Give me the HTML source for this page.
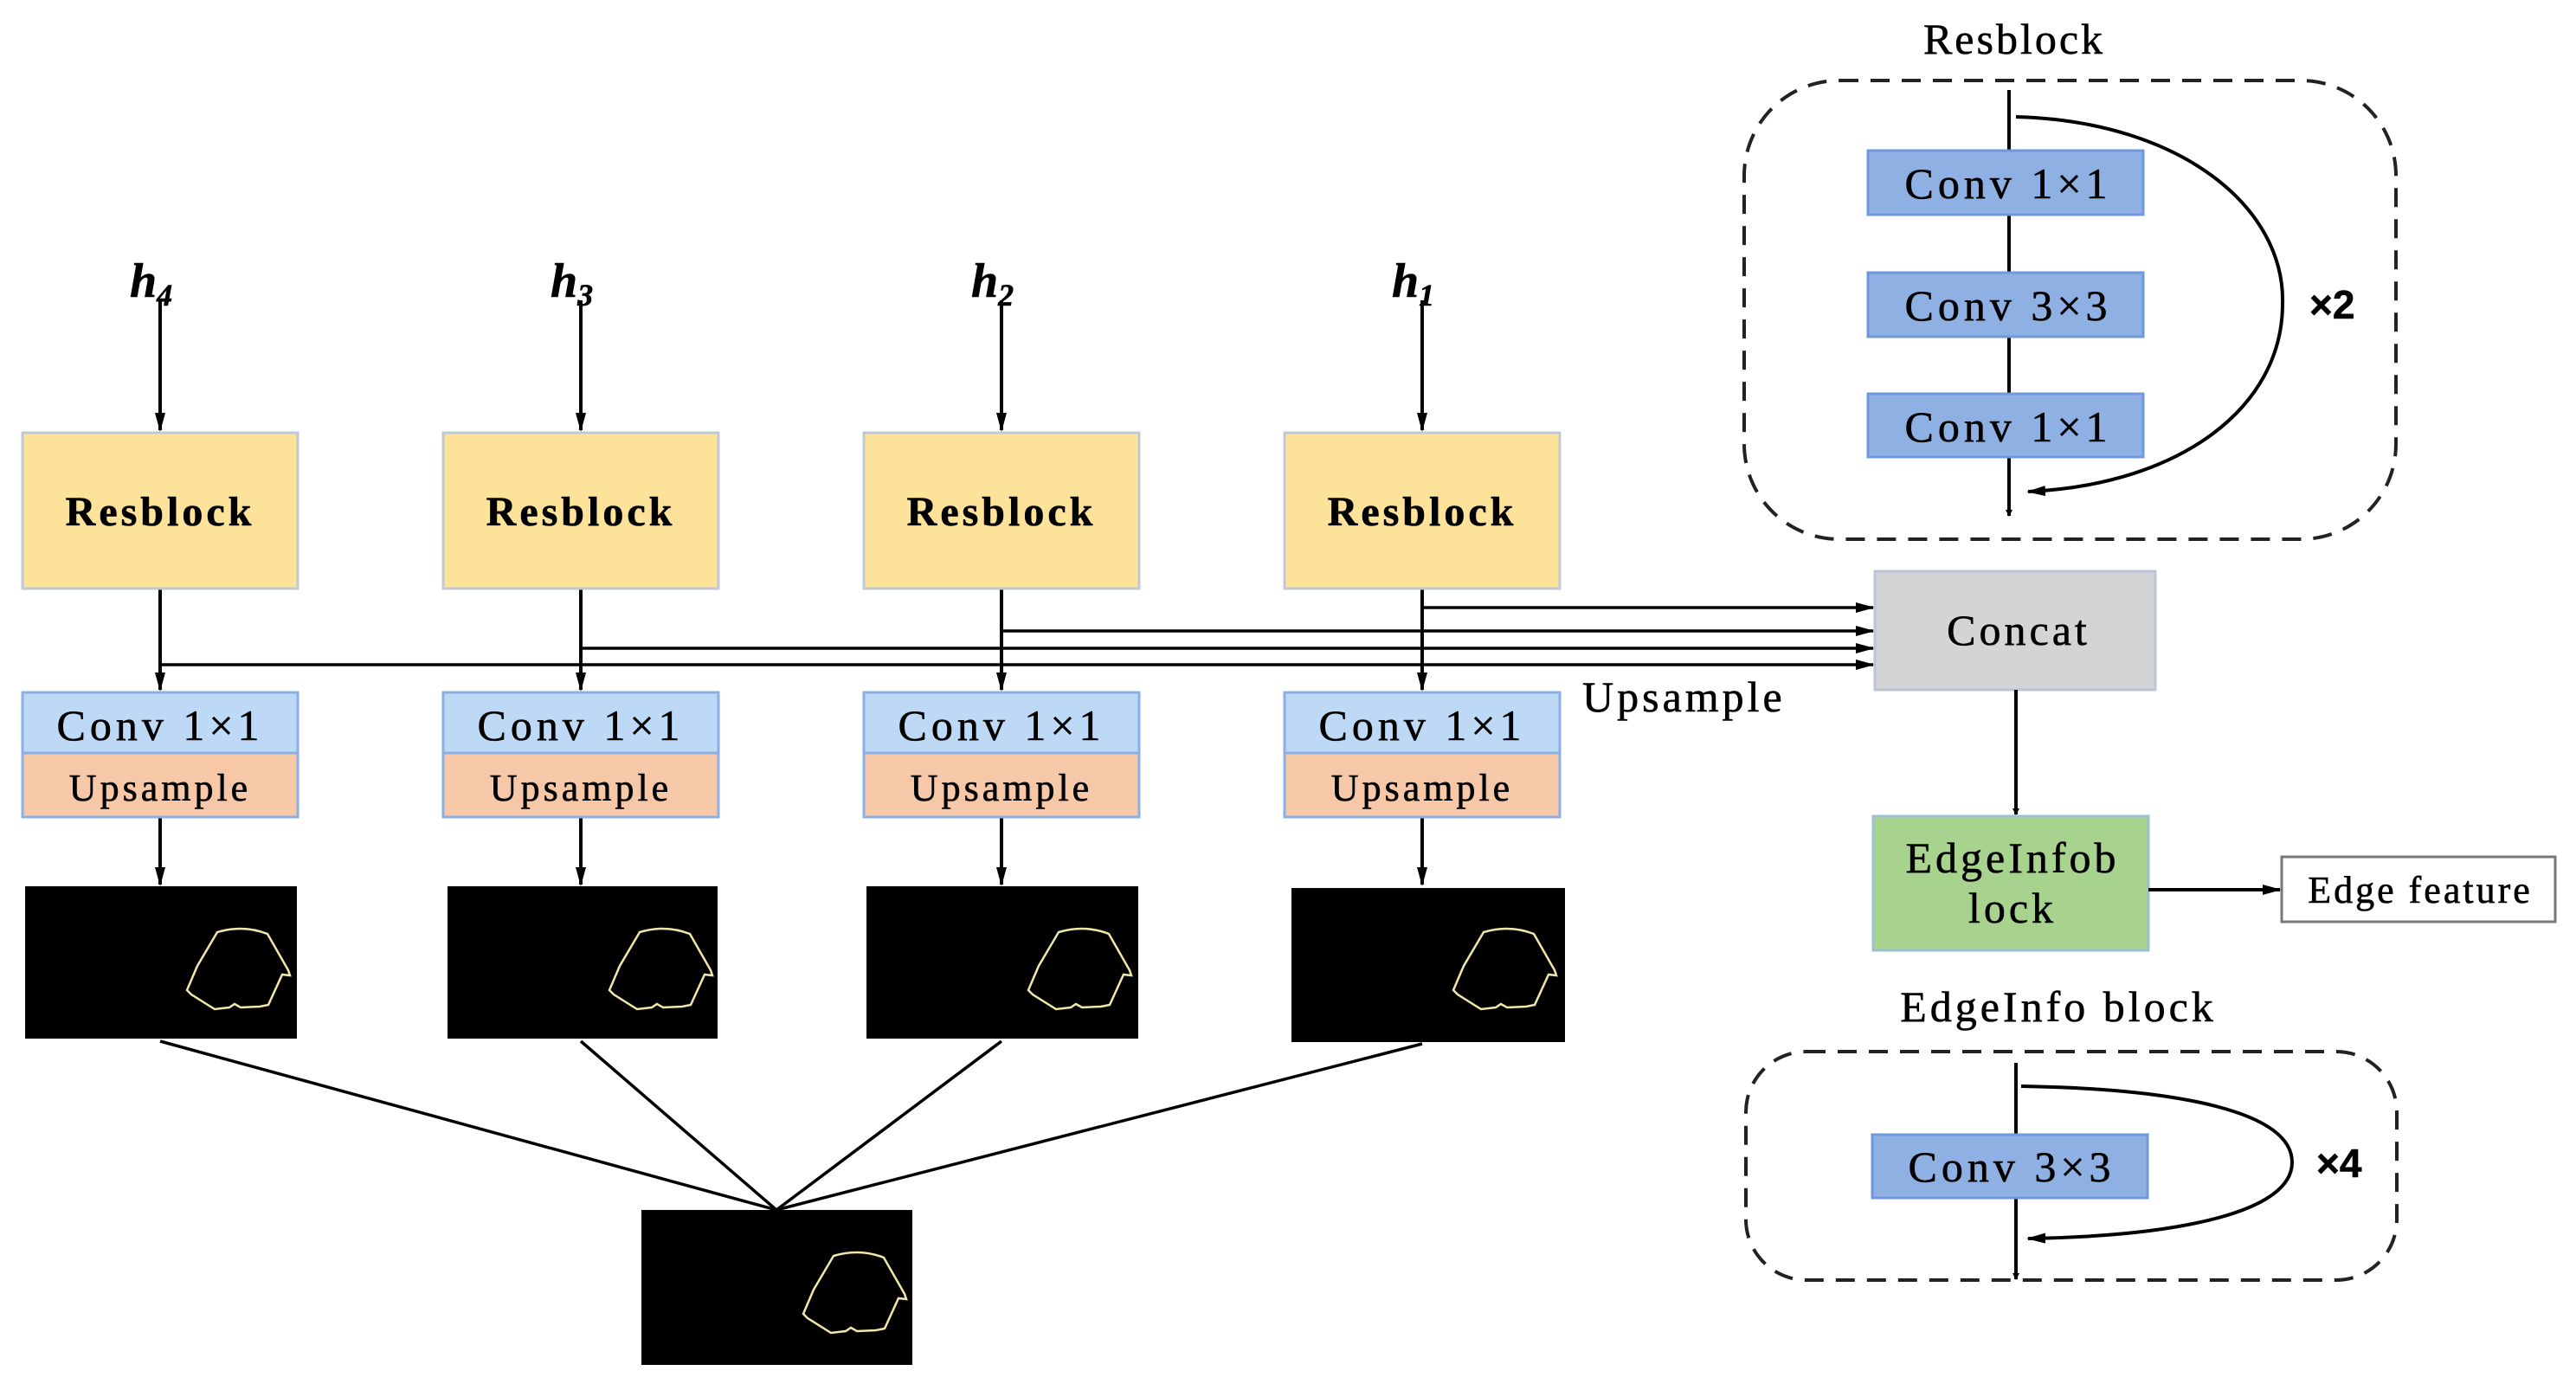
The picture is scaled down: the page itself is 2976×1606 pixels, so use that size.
<!DOCTYPE html>
<html><head><meta charset="utf-8"><style>
html,body{margin:0;padding:0;background:#fff;}
svg{display:block;}
text{font-family:"Liberation Serif",serif;fill:#000;stroke:#000;stroke-width:0.6;}
</style></head><body>
<svg width="2976" height="1606" viewBox="0 0 2976 1606" xmlns="http://www.w3.org/2000/svg">
<defs>
<marker id="ar" markerWidth="8" markerHeight="8" refX="7" refY="4" orient="auto" markerUnits="userSpaceOnUse" viewBox="0 0 8 8">
<path d="M0,0 L8,4 L0,8 z" fill="#000"/></marker>
<marker id="ar2" markerWidth="22" markerHeight="14" refX="20" refY="7" orient="auto" markerUnits="userSpaceOnUse">
<path d="M0,1 L22,7 L0,13 z" fill="#000"/></marker>
<g id="contour"><path d="M187,120 L199,92 L222,53 Q252,44 280,55 L304,97 L306,103 L297,102 L281,137 L271,139 L249,140 L242,136 L236,140 L219,142 L192,125 Z" fill="none" stroke="#f0e8a8" stroke-width="2.5"/></g>
</defs>

<g stroke="#000" stroke-width="4" fill="none">
<line x1="185" y1="347" x2="185" y2="497" marker-end="url(#ar2)"/>
<line x1="671" y1="347" x2="671" y2="497" marker-end="url(#ar2)"/>
<line x1="1157" y1="347" x2="1157" y2="497" marker-end="url(#ar2)"/>
<line x1="1643" y1="347" x2="1643" y2="497" marker-end="url(#ar2)"/>
<line x1="185" y1="680" x2="185" y2="797" marker-end="url(#ar2)"/>
<line x1="671" y1="680" x2="671" y2="797" marker-end="url(#ar2)"/>
<line x1="1157" y1="680" x2="1157" y2="797" marker-end="url(#ar2)"/>
<line x1="1643" y1="680" x2="1643" y2="797" marker-end="url(#ar2)"/>
<line x1="185" y1="944" x2="185" y2="1022" marker-end="url(#ar2)"/>
<line x1="671" y1="944" x2="671" y2="1022" marker-end="url(#ar2)"/>
<line x1="1157" y1="944" x2="1157" y2="1022" marker-end="url(#ar2)"/>
<line x1="1643" y1="944" x2="1643" y2="1022" marker-end="url(#ar2)"/>
</g>
<g stroke="#000" stroke-width="3.5" fill="none">
<line x1="1643" y1="702" x2="2164" y2="702" marker-end="url(#ar2)"/>
<line x1="1157" y1="729" x2="2164" y2="729" marker-end="url(#ar2)"/>
<line x1="671" y1="749" x2="2164" y2="749" marker-end="url(#ar2)"/>
<line x1="185" y1="768" x2="2164" y2="768" marker-end="url(#ar2)"/>
<line x1="185" y1="1203" x2="897" y2="1398"/>
<line x1="671" y1="1203" x2="897" y2="1398"/>
<line x1="1157" y1="1203" x2="897" y2="1398"/>
<line x1="1643" y1="1206" x2="897" y2="1398"/>
</g>

<g fill="#fde39a" stroke="#c0c8d8" stroke-width="3">
<rect x="26" y="500" width="318" height="180"/>
<rect x="512" y="500" width="318" height="180"/>
<rect x="998" y="500" width="318" height="180"/>
<rect x="1484" y="500" width="318" height="180"/>
</g>
<g font-size="48" font-weight="bold" text-anchor="middle" letter-spacing="4">
<text x="185" y="607">Resblock</text>
<text x="671" y="607">Resblock</text>
<text x="1157" y="607">Resblock</text>
<text x="1643" y="607">Resblock</text>
</g>

<g stroke="#8ab0e6" stroke-width="3">
<rect x="26" y="800" width="318" height="70" fill="#bdd9f5"/><rect x="26" y="870" width="318" height="74" fill="#f7c8a8"/>
<rect x="512" y="800" width="318" height="70" fill="#bdd9f5"/><rect x="512" y="870" width="318" height="74" fill="#f7c8a8"/>
<rect x="998" y="800" width="318" height="70" fill="#bdd9f5"/><rect x="998" y="870" width="318" height="74" fill="#f7c8a8"/>
<rect x="1484" y="800" width="318" height="70" fill="#bdd9f5"/><rect x="1484" y="870" width="318" height="74" fill="#f7c8a8"/>
</g>
<g font-size="50" text-anchor="middle" letter-spacing="5">
<text x="185" y="855">Conv 1×1</text><text x="185" y="925" font-size="44" letter-spacing="4">Upsample</text>
<text x="671" y="855">Conv 1×1</text><text x="671" y="925" font-size="44" letter-spacing="4">Upsample</text>
<text x="1157" y="855">Conv 1×1</text><text x="1157" y="925" font-size="44" letter-spacing="4">Upsample</text>
<text x="1643" y="855">Conv 1×1</text><text x="1643" y="925" font-size="44" letter-spacing="4">Upsample</text>
</g>

<g fill="#000">
<rect x="29" y="1024" width="314" height="176"/>
<rect x="517" y="1024" width="312" height="176"/>
<rect x="1001" y="1024" width="314" height="176"/>
<rect x="1492" y="1026" width="316" height="178"/>
<rect x="741" y="1398" width="313" height="179"/>
</g>
<use href="#contour" x="29" y="1024"/>
<use href="#contour" x="517" y="1024"/>
<use href="#contour" x="1001" y="1024"/>
<use href="#contour" x="1492" y="1024"/>
<use href="#contour" x="741" y="1398"/>

<g font-size="56" font-weight="bold" font-style="italic">
<text x="150" y="343">h<tspan font-size="36" dy="10">4</tspan></text>
<text x="636" y="343">h<tspan font-size="36" dy="10">3</tspan></text>
<text x="1122" y="343">h<tspan font-size="36" dy="10">2</tspan></text>
<text x="1608" y="343">h<tspan font-size="36" dy="10">1</tspan></text>
</g>

<text x="1828" y="822" font-size="50" letter-spacing="4">Upsample</text>

<rect x="2166" y="660" width="324" height="137" fill="#d4d4d4" stroke="#b8c4d8" stroke-width="3"/>
<text x="2332" y="745" font-size="50" text-anchor="middle" letter-spacing="4">Concat</text>
<line x1="2329" y1="797" x2="2329" y2="941" stroke="#000" stroke-width="4" marker-end="url(#ar)"/>

<rect x="2164" y="943" width="318" height="155" fill="#a8d38f" stroke="#9cc0d0" stroke-width="3"/>
<text x="2325" y="1008" font-size="50" text-anchor="middle" letter-spacing="4">EdgeInfob</text>
<text x="2325" y="1066" font-size="50" text-anchor="middle" letter-spacing="4">lock</text>
<line x1="2482" y1="1028" x2="2634" y2="1028" stroke="#000" stroke-width="4" marker-end="url(#ar2)"/>
<rect x="2636" y="990" width="316" height="75" fill="#fff" stroke="#777" stroke-width="3"/>
<text x="2796" y="1043" font-size="44" text-anchor="middle" letter-spacing="3">Edge feature</text>

<text x="2327" y="62" font-size="50" text-anchor="middle" letter-spacing="3" fill="#222">Resblock</text>
<rect x="2015" y="93" width="753" height="530" rx="110" ry="110" fill="none" stroke="#222" stroke-width="4" stroke-dasharray="22,14"/>
<line x1="2321" y1="104" x2="2321" y2="596" stroke="#000" stroke-width="4" marker-end="url(#ar)"/>
<path d="M2329,135 C2520,140 2640,240 2637,351 C2637,470 2520,560 2343,568" fill="none" stroke="#000" stroke-width="4" marker-end="url(#ar2)"/>
<g fill="#8fb0e2" stroke="#6f98dc" stroke-width="3">
<rect x="2158" y="174" width="318" height="74"/>
<rect x="2158" y="315" width="318" height="74"/>
<rect x="2158" y="455" width="318" height="73"/>
</g>
<g font-size="50" text-anchor="middle" letter-spacing="5">
<text x="2320" y="229">Conv 1×1</text>
<text x="2320" y="370">Conv 3×3</text>
<text x="2320" y="510">Conv 1×1</text>
</g>
<text x="2668" y="368" font-size="46" font-weight="bold" style="font-family:'Liberation Sans',sans-serif">×2</text>

<text x="2378" y="1180" font-size="50" text-anchor="middle" letter-spacing="4" fill="#222">EdgeInfo block</text>
<rect x="2017" y="1215" width="752" height="264" rx="70" ry="70" fill="none" stroke="#222" stroke-width="4" stroke-dasharray="22,14"/>
<line x1="2329" y1="1228" x2="2329" y2="1478" stroke="#000" stroke-width="4" marker-end="url(#ar)"/>
<path d="M2335,1255 C2520,1258 2648,1285 2648,1343 C2648,1400 2520,1428 2343,1431" fill="none" stroke="#000" stroke-width="4" marker-end="url(#ar2)"/>
<rect x="2163" y="1311" width="318" height="73" fill="#8fb0e2" stroke="#6f98dc" stroke-width="3"/>
<text x="2324" y="1365" font-size="50" text-anchor="middle" letter-spacing="5">Conv 3×3</text>
<text x="2676" y="1360" font-size="46" font-weight="bold" style="font-family:'Liberation Sans',sans-serif">×4</text>
</svg>
</body></html>
